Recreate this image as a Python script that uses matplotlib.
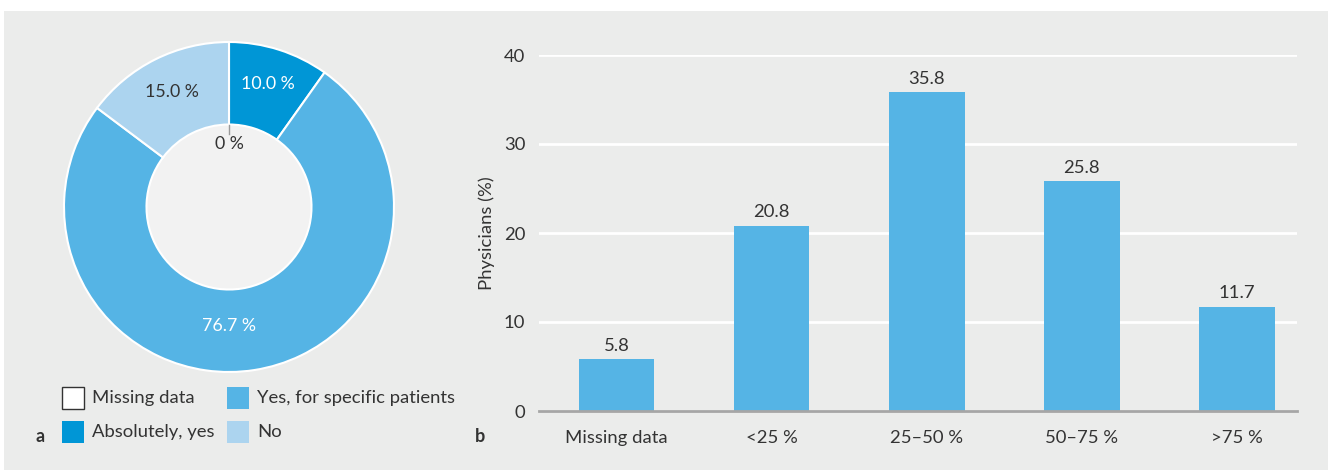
import numpy as np
import matplotlib
matplotlib.use("Agg")
import matplotlib.pyplot as plt
from matplotlib.patches import Rectangle, Circle

# ---- data ----
pie_labels = ["Missing data", "Absolutely, yes", "Yes, for specific patients", "No"]
pie_values = [0.0, 10.0, 76.7, 15.0]
pie_colors = ["#ffffff", "#0096d6", "#55b4e5", "#acd4ef"]
pie_text_colors = ["#333333", "#ffffff", "#ffffff", "#333333"]

bar_categories = ["Missing data", "<25 %", "25\u201350 %", "50\u201375 %", ">75 %"]
bar_values = [5.8, 20.8, 35.8, 25.8, 11.7]
y_ticks = [0, 10, 20, 30, 40]

FONT = ["Lato", "DejaVu Sans"]
plt.rcParams['font.family'] = FONT
TXT = "#333333"
BG = "#ebeceb"
FS = 13.3

W, H = 1335, 470
fig = plt.figure(figsize=(W / 100, H / 100), dpi=100)
fig.patch.set_facecolor("white")

def fx(px):
    return px / W

def fy(py):
    return 1 - py / H

# background panel
fig.add_artist(Rectangle((fx(4), fy(470)), fx(1328) - fx(4), fy(11) - fy(470),
                         transform=fig.transFigure, facecolor=BG, edgecolor="none", zorder=0))

# ---- donut ----
cx, cy, R = 229, 207, 165
axp = fig.add_axes([fx(cx - R), fy(cy + R), 2 * R / W, 2 * R / H])
axp.set_facecolor("none")
wedges, _ = axp.pie(pie_values, colors=pie_colors, startangle=90, counterclock=False,
                    radius=1, wedgeprops=dict(width=0.5, edgecolor="white", linewidth=1.5))
axp.add_patch(Circle((0, 0), 0.5, facecolor="#f2f2f2", edgecolor="none", zorder=0))
axp.set_xlim(-1, 1)
axp.set_ylim(-1, 1)
axp.set_aspect("equal")
axp.axis("off")

for w, v, tc in zip(wedges, pie_values, pie_text_colors):
    mid = np.deg2rad((w.theta1 + w.theta2) / 2)
    if v == 0:
        axp.plot([np.cos(mid) * 0.5, np.cos(mid) * 0.44], [np.sin(mid) * 0.5, np.sin(mid) * 0.44],
                 color="#999999", lw=1)
        axp.text(np.cos(mid) * 0.38, np.sin(mid) * 0.38, "0 %", ha="center", va="center",
                 color=tc, fontsize=FS - 0.5)
    else:
        if v >= 50:
            mid = np.deg2rad(-90)
            r = 0.72
        else:
            r = 0.78
        axp.text(np.cos(mid) * r, np.sin(mid) * r, f"{v:.1f} %", ha="center", va="center",
                 color=tc, fontsize=FS - 0.5)

# legend (manual)
leg_x = [62, 227]
leg_y = [387, 421]
order = [(0, 0), (1, 0), (0, 1), (1, 1)]  # (row, col) for each label
for (row, col), lab, c in zip(order, pie_labels, pie_colors):
    x0 = leg_x[col]
    y0 = leg_y[row]
    ec = "#333333" if c == "#ffffff" else "none"
    fig.add_artist(Rectangle((fx(x0), fy(y0 + 22)), 22 / W, 22 / H, transform=fig.transFigure,
                             facecolor=c, edgecolor=ec, linewidth=1))
    fig.text(fx(x0 + 30), fy(y0 + 11), lab, ha="left", va="center", color=TXT, fontsize=FS)

fig.text(fx(40), fy(437), "a", ha="center", va="center", color=TXT, fontsize=13, fontweight="bold")
fig.text(fx(480), fy(437), "b", ha="center", va="center", color=TXT, fontsize=13, fontweight="bold")

# ---- bars ----
left, right, bot, top = 539, 1297, 411, 55
axb = fig.add_axes([fx(left), fy(bot), (right - left) / W, (bot - top) / H])
axb.set_facecolor("none")
x = np.arange(len(bar_categories))
bars = axb.bar(x, bar_values, width=0.49, color="#55b4e5", zorder=3)
axb.set_xlim(-0.5, 4.39)
axb.set_ylim(0, 40)
axb.set_yticks(y_ticks)
axb.set_xticks(x)
axb.set_xticklabels(bar_categories)
axb.grid(axis="y", color="white", linewidth=2, zorder=1)
axb.set_axisbelow(True)
for s in ["top", "right", "left"]:
    axb.spines[s].set_visible(False)
axb.spines["bottom"].set_color("#a6a6a6")
axb.spines["bottom"].set_linewidth(2)
axb.spines["bottom"].set_zorder(4)
axb.tick_params(axis="both", length=0, labelsize=FS, labelcolor=TXT)
axb.tick_params(axis="x", pad=14)
axb.tick_params(axis="y", pad=10)
for lab in axb.get_yticklabels():
    lab.set_clip_on(False)
axb.set_ylabel("Physicians (%)", fontsize=FS, color=TXT)
axb.yaxis.set_label_coords((495 - left) / (right - left), 0.5)
for xi, v in zip(x, bar_values):
    axb.annotate(f"{v:.1f}", (xi, v), xytext=(0, 4), textcoords="offset points",
                 ha="center", va="bottom", color=TXT, fontsize=FS)

fig.savefig("out.png", dpi=100, facecolor="white")
